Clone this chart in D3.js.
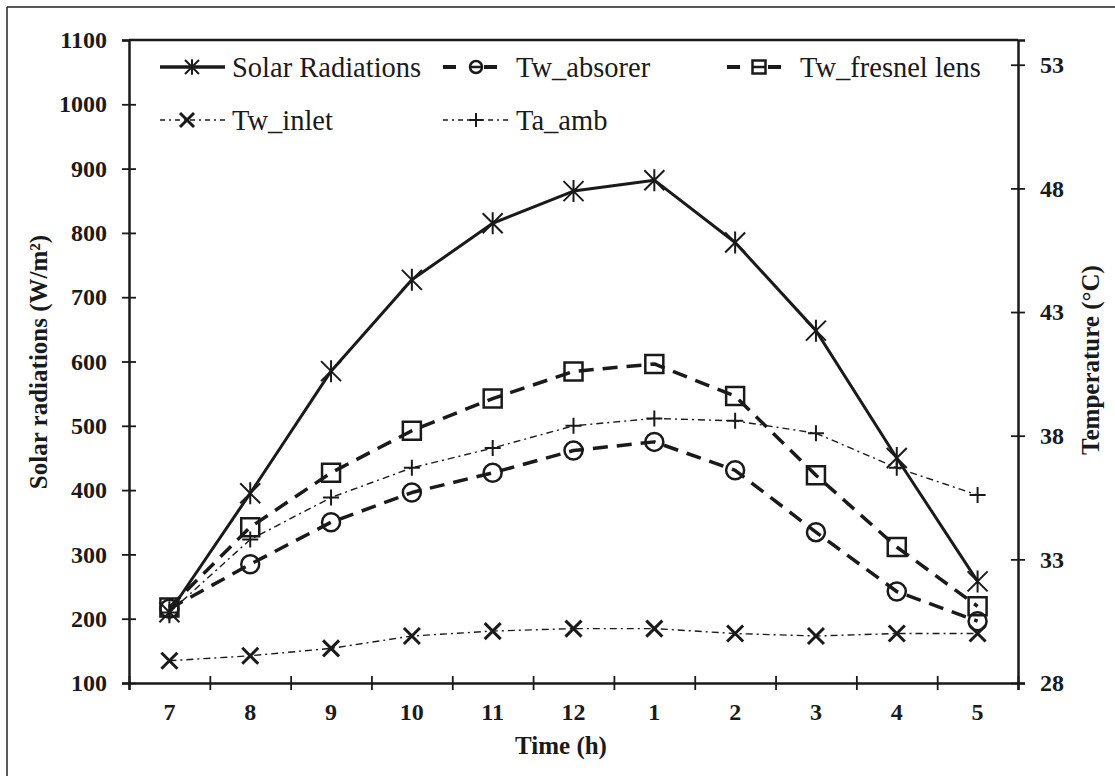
<!DOCTYPE html>
<html>
<head>
<meta charset="utf-8">
<script src="https://cdn.jsdelivr.net/npm/d3@7"></script>
<style>
  html, body { margin: 0; padding: 0; background: #fff; }
  svg { display: block; }
</style>
</head>
<body>
<svg id="chart" width="1115" height="776"></svg>
<script>
// ---------------- DATA ----------------
const hours = ["7", "8", "9", "10", "11", "12", "1", "2", "3", "4", "5"];
const solarRadiation = [210, 395, 585, 727, 815, 865, 882, 785, 648, 450, 258];     // W/m2 (left axis)
const twAbsorber     = [31.0, 32.8, 34.5, 35.7, 36.5, 37.4, 37.75, 36.6, 34.1, 31.7, 30.5]; // °C (right axis)
const twFresnel      = [31.05, 34.3, 36.5, 38.2, 39.5, 40.6, 40.9, 39.6, 36.4, 33.5, 31.1];
const twInlet        = [28.9, 29.1, 29.4, 29.9, 30.1, 30.2, 30.2, 30.0, 29.9, 30.0, 30.0];
const taAmb          = [30.85, 33.8, 35.5, 36.7, 37.5, 38.4, 38.7, 38.6, 38.1, 36.7, 35.6];
const leftTicks  = [100, 200, 300, 400, 500, 600, 700, 800, 900, 1000, 1100];
const rightTicks = [28, 33, 38, 43, 48, 53];
const legendNames = ["Solar Radiations", "Tw_absorer", "Tw_fresnel lens", "Tw_inlet", "Ta_amb"];

// ---------------- LAYOUT ----------------
const svg = d3.select("#chart");
const L = 129, R = 1018, T = 40, B = 683;
const serif = "'Liberation Serif', 'Times New Roman', serif";

// outer frame (left/top visible)
svg.append("line").attr("x1", 7).attr("x2", 7).attr("y1", 7).attr("y2", 776).attr("stroke", "#222").attr("stroke-width", 1.5);
svg.append("line").attr("x1", 7).attr("x2", 1115).attr("y1", 7).attr("y2", 7).attr("stroke", "#222").attr("stroke-width", 1.5);

const x = d3.scaleBand().domain(hours).range([L, R]).padding(0);
const xEdge = d3.scaleLinear().domain([0, hours.length]).range([L, R]);
const yL = d3.scaleLinear().domain([100, 1100]).range([B, T]);
const yR = d3.scaleLinear().domain([28, 54]).range([B, T]);

const axisColor = "#1a1a1a";

// plot top border
svg.append("line").attr("x1", L).attr("x2", R).attr("y1", T).attr("y2", T)
  .attr("stroke", axisColor).attr("stroke-width", 2.5);

function styleAxis(g) {
  g.select(".domain").attr("stroke", axisColor).attr("stroke-width", 2.5);
  g.selectAll(".tick line").attr("stroke", axisColor).attr("stroke-width", 1.8);
  g.selectAll("text").attr("fill", "#1a1a1a").attr("font-family", serif).style("font-family", serif)
    .style("font-weight", "bold").style("font-size", "24px");
}

// left axis
const gL = svg.append("g").attr("transform", `translate(${L},0)`)
  .call(d3.axisLeft(yL).tickValues(leftTicks).tickSizeOuter(0).tickSize(7).tickPadding(15).tickFormat(d3.format("d")));
styleAxis(gL);
gL.selectAll(".tick line").attr("x1", d => d === 1100 ? 0 : 7).attr("x2", -7);

// right axis
const gR = svg.append("g").attr("transform", `translate(${R},0)`)
  .call(d3.axisRight(yR).tickValues(rightTicks).tickSizeOuter(0).tickSize(7).tickPadding(15).tickFormat(d3.format("d")));
styleAxis(gR);
gR.selectAll(".tick line").attr("x1", -7).attr("x2", 7);

// bottom axis: boundary ticks
const gB = svg.append("g").attr("transform", `translate(0,${B})`)
  .call(d3.axisBottom(xEdge).tickValues(d3.range(hours.length + 1)).tickSizeOuter(0).tickSize(7).tickFormat(""));
styleAxis(gB);
gB.selectAll(".tick line").attr("y1", -7).attr("y2", 7);
// bottom axis labels (category centres)
const gB2 = svg.append("g").attr("transform", `translate(0,${B})`)
  .call(d3.axisBottom(x).tickSize(0).tickPadding(20));
gB2.select(".domain").remove();
styleAxis(gB2);

// axis titles
const titleStyle = s => s.style("font-family", serif).style("font-weight", "bold").style("font-size", "25px").attr("fill", "#1a1a1a");
svg.append("text").attr("x", 561).attr("y", 754).attr("text-anchor", "middle").text("Time (h)").call(titleStyle);
svg.append("text").attr("transform", "translate(47,362) rotate(-90)").attr("text-anchor", "middle")
  .text("Solar radiations (W/m²)").call(titleStyle);
svg.append("text").attr("transform", "translate(1099,360) rotate(-90)").attr("text-anchor", "middle")
  .text("Temperature (°C)").call(titleStyle);

// ---------------- MARKERS ----------------
function markerPath(type, s) {
  const h = s / 2;
  switch (type) {
    case "asterisk": return `M${-h},${-h}L${h},${h}M${-h},${h}L${h},${-h}M0,${-h * 1.1}L0,${h * 1.1}`;
    case "x": return `M${-h},${-h}L${h},${h}M${-h},${h}L${h},${-h}`;
    case "plus": return `M${-h},0L${h},0M0,${-h}L0,${h}`;
    case "square": return `M${-h},${-h}H${h}V${h}H${-h}Z`;
    case "circle": return `M${h},0A${h},${h} 0 1,1 ${-h},0A${h},${h} 0 1,1 ${h},0Z`;
  }
}

const series = [
  { name: legendNames[0], values: solarRadiation, y: yL, width: 3, dash: null, marker: "asterisk", msize: 20, mstroke: 2 },
  { name: legendNames[1], values: twAbsorber, y: yR, width: 3.5, dash: "15,9", marker: "circle", msize: 18, mstroke: 2.5 },
  { name: legendNames[2], values: twFresnel, y: yR, width: 3.5, dash: "15,9", marker: "square", msize: 18, mstroke: 2.5 },
  { name: legendNames[3], values: twInlet, y: yR, width: 1.4, dash: "7,4,2,4", marker: "x", msize: 16, mstroke: 3 },
  { name: legendNames[4], values: taAmb, y: yR, width: 1.4, dash: "7,4,2,4", marker: "plus", msize: 16, mstroke: 2 }
];

const cx = d => x(d) + x.bandwidth() / 2;

series.forEach(s => {
  const line = d3.line().x((d, i) => cx(hours[i])).y(d => s.y(d));
  svg.append("path").datum(s.values).attr("d", line)
    .attr("fill", "none").attr("stroke", "#1a1a1a").attr("stroke-width", s.width)
    .attr("stroke-dasharray", s.dash).attr("stroke-linejoin", "round");
  svg.append("g").selectAll("path").data(s.values).join("path")
    .attr("transform", (d, i) => `translate(${cx(hours[i])},${s.y(d)})`)
    .attr("d", markerPath(s.marker, s.msize))
    .attr("fill", "none").attr("stroke", "#1a1a1a").attr("stroke-width", s.mstroke);
});

// ---------------- LEGEND ----------------
const legendPos = [
  { x0: 160, x1: 225, mx: 192, tx: 232, y: 67, dash: null, w: 3.5, ms: 14 },
  { x0: 443, x1: 510, mx: 476, tx: 516, y: 67, dash: "13,28", w: 4, ms: 12 },
  { x0: 727, x1: 793, mx: 759, tx: 800, y: 67, dash: "13,28", w: 4, ms: 13 },
  { x0: 160, x1: 225, mx: 187, tx: 232, y: 120, dash: "5,4,2,4", w: 1.4, ms: 14 },
  { x0: 443, x1: 510, mx: 476, tx: 516, y: 120, dash: "5,4,2,4", w: 1.4, ms: 14 }
];
const lg = svg.append("g");
series.forEach((s, i) => {
  const p = legendPos[i];
  lg.append("line").attr("x1", p.x0).attr("x2", p.x1).attr("y1", p.y).attr("y2", p.y)
    .attr("stroke", "#1a1a1a").attr("stroke-width", p.w).attr("stroke-dasharray", p.dash);
  lg.append("path").attr("transform", `translate(${p.mx},${p.y})`).attr("d", markerPath(s.marker, p.ms))
    .attr("fill", "none").attr("stroke", "#1a1a1a").attr("stroke-width", s.mstroke);
  if (s.marker === "circle" || s.marker === "square") {
    lg.append("line").attr("x1", p.mx - p.ms / 2).attr("x2", p.mx + p.ms / 2).attr("y1", p.y).attr("y2", p.y)
      .attr("stroke", "#1a1a1a").attr("stroke-width", 2.5);
  }
  lg.append("text").attr("x", p.tx).attr("y", p.y).attr("dy", "0.35em").text(s.name)
    .attr("font-family", serif).style("font-family", serif).style("font-size", "28.5px").attr("fill", "#1a1a1a");
});
</script>
</body>
</html>
